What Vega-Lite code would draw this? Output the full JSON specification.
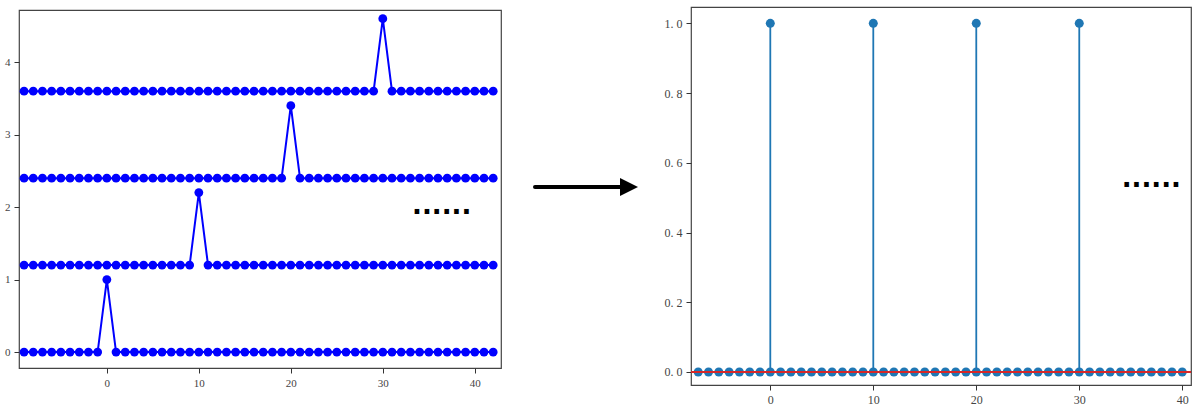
{
  "$schema": "https://vega.github.io/schema/vega-lite/v6.json",
  "padding": {"left": 3, "top": 6, "right": 0, "bottom": 0},
  "background": "white",
  "spacing": 10,
  "config": {
    "view": {"stroke": "#444", "strokeWidth": 1.2},
    "axis": {"domain": false, "grid": false, "tickColor": "#333", "tickSize": 5, "labelPadding": 4, "labelFont": "Liberation Serif", "labelFontSize": 11, "labelColor": "#444", "title": null}
  },
  "datasets": {
    "shifts": [
      {"x": -9, "a": 0, "b": 1.2, "c": 2.4, "d": 3.6},
      {"x": -8, "a": 0, "b": 1.2, "c": 2.4, "d": 3.6},
      {"x": -7, "a": 0, "b": 1.2, "c": 2.4, "d": 3.6},
      {"x": -6, "a": 0, "b": 1.2, "c": 2.4, "d": 3.6},
      {"x": -5, "a": 0, "b": 1.2, "c": 2.4, "d": 3.6},
      {"x": -4, "a": 0, "b": 1.2, "c": 2.4, "d": 3.6},
      {"x": -3, "a": 0, "b": 1.2, "c": 2.4, "d": 3.6},
      {"x": -2, "a": 0, "b": 1.2, "c": 2.4, "d": 3.6},
      {"x": -1, "a": 0, "b": 1.2, "c": 2.4, "d": 3.6},
      {"x": 0, "a": 1, "b": 1.2, "c": 2.4, "d": 3.6},
      {"x": 1, "a": 0, "b": 1.2, "c": 2.4, "d": 3.6},
      {"x": 2, "a": 0, "b": 1.2, "c": 2.4, "d": 3.6},
      {"x": 3, "a": 0, "b": 1.2, "c": 2.4, "d": 3.6},
      {"x": 4, "a": 0, "b": 1.2, "c": 2.4, "d": 3.6},
      {"x": 5, "a": 0, "b": 1.2, "c": 2.4, "d": 3.6},
      {"x": 6, "a": 0, "b": 1.2, "c": 2.4, "d": 3.6},
      {"x": 7, "a": 0, "b": 1.2, "c": 2.4, "d": 3.6},
      {"x": 8, "a": 0, "b": 1.2, "c": 2.4, "d": 3.6},
      {"x": 9, "a": 0, "b": 1.2, "c": 2.4, "d": 3.6},
      {"x": 10, "a": 0, "b": 2.2, "c": 2.4, "d": 3.6},
      {"x": 11, "a": 0, "b": 1.2, "c": 2.4, "d": 3.6},
      {"x": 12, "a": 0, "b": 1.2, "c": 2.4, "d": 3.6},
      {"x": 13, "a": 0, "b": 1.2, "c": 2.4, "d": 3.6},
      {"x": 14, "a": 0, "b": 1.2, "c": 2.4, "d": 3.6},
      {"x": 15, "a": 0, "b": 1.2, "c": 2.4, "d": 3.6},
      {"x": 16, "a": 0, "b": 1.2, "c": 2.4, "d": 3.6},
      {"x": 17, "a": 0, "b": 1.2, "c": 2.4, "d": 3.6},
      {"x": 18, "a": 0, "b": 1.2, "c": 2.4, "d": 3.6},
      {"x": 19, "a": 0, "b": 1.2, "c": 2.4, "d": 3.6},
      {"x": 20, "a": 0, "b": 1.2, "c": 3.4, "d": 3.6},
      {"x": 21, "a": 0, "b": 1.2, "c": 2.4, "d": 3.6},
      {"x": 22, "a": 0, "b": 1.2, "c": 2.4, "d": 3.6},
      {"x": 23, "a": 0, "b": 1.2, "c": 2.4, "d": 3.6},
      {"x": 24, "a": 0, "b": 1.2, "c": 2.4, "d": 3.6},
      {"x": 25, "a": 0, "b": 1.2, "c": 2.4, "d": 3.6},
      {"x": 26, "a": 0, "b": 1.2, "c": 2.4, "d": 3.6},
      {"x": 27, "a": 0, "b": 1.2, "c": 2.4, "d": 3.6},
      {"x": 28, "a": 0, "b": 1.2, "c": 2.4, "d": 3.6},
      {"x": 29, "a": 0, "b": 1.2, "c": 2.4, "d": 3.6},
      {"x": 30, "a": 0, "b": 1.2, "c": 2.4, "d": 4.6},
      {"x": 31, "a": 0, "b": 1.2, "c": 2.4, "d": 3.6},
      {"x": 32, "a": 0, "b": 1.2, "c": 2.4, "d": 3.6},
      {"x": 33, "a": 0, "b": 1.2, "c": 2.4, "d": 3.6},
      {"x": 34, "a": 0, "b": 1.2, "c": 2.4, "d": 3.6},
      {"x": 35, "a": 0, "b": 1.2, "c": 2.4, "d": 3.6},
      {"x": 36, "a": 0, "b": 1.2, "c": 2.4, "d": 3.6},
      {"x": 37, "a": 0, "b": 1.2, "c": 2.4, "d": 3.6},
      {"x": 38, "a": 0, "b": 1.2, "c": 2.4, "d": 3.6},
      {"x": 39, "a": 0, "b": 1.2, "c": 2.4, "d": 3.6},
      {"x": 40, "a": 0, "b": 1.2, "c": 2.4, "d": 3.6},
      {"x": 41, "a": 0, "b": 1.2, "c": 2.4, "d": 3.6},
      {"x": 42, "a": 0, "b": 1.2, "c": 2.4, "d": 3.6}
    ],
    "stems": [
      {"x": -7, "y": 0}, {"x": -6, "y": 0}, {"x": -5, "y": 0}, {"x": -4, "y": 0},
      {"x": -3, "y": 0}, {"x": -2, "y": 0}, {"x": -1, "y": 0}, {"x": 0, "y": 1}, {"x": 0, "y": 0},
      {"x": 1, "y": 0}, {"x": 2, "y": 0}, {"x": 3, "y": 0}, {"x": 4, "y": 0},
      {"x": 5, "y": 0}, {"x": 6, "y": 0}, {"x": 7, "y": 0}, {"x": 8, "y": 0},
      {"x": 9, "y": 0}, {"x": 10, "y": 1}, {"x": 10, "y": 0}, {"x": 11, "y": 0}, {"x": 12, "y": 0},
      {"x": 13, "y": 0}, {"x": 14, "y": 0}, {"x": 15, "y": 0}, {"x": 16, "y": 0},
      {"x": 17, "y": 0}, {"x": 18, "y": 0}, {"x": 19, "y": 0}, {"x": 20, "y": 1}, {"x": 20, "y": 0},
      {"x": 21, "y": 0}, {"x": 22, "y": 0}, {"x": 23, "y": 0}, {"x": 24, "y": 0},
      {"x": 25, "y": 0}, {"x": 26, "y": 0}, {"x": 27, "y": 0}, {"x": 28, "y": 0},
      {"x": 29, "y": 0}, {"x": 30, "y": 1}, {"x": 30, "y": 0}, {"x": 31, "y": 0}, {"x": 32, "y": 0},
      {"x": 33, "y": 0}, {"x": 34, "y": 0}, {"x": 35, "y": 0}, {"x": 36, "y": 0},
      {"x": 37, "y": 0}, {"x": 38, "y": 0}, {"x": 39, "y": 0}, {"x": 40, "y": 0}
    ],
    "baseline": [{"y": 0}],
    "dotsLeft": [{"x": 36.4, "y": 1.93, "t": "......"}],
    "dotsRight": [{"x": 37.0, "y": 0.536, "t": "......"}],
    "arrowLine": [{"x": 23, "x2": 116, "y": 0.524}],
    "arrowHead": [{"x": 117, "y": 0.524}],
    "spacer": [{"x": 0}]
  },
  "hconcat": [
    {
      "spacing": 1,
      "vconcat": [
        {
          "width": 482,
          "height": 1,
          "view": {"stroke": null},
          "data": {"name": "spacer"},
          "mark": {"type": "point", "opacity": 0, "size": 0, "strokeWidth": 0},
          "encoding": {
            "x": {"field": "x", "type": "quantitative", "axis": null}
          }
        },
        {
          "width": 482,
          "height": 358,
          "layer": [
            {
              "data": {"name": "shifts"},
              "transform": [{"fold": ["a", "b", "c", "d"], "as": ["series", "y"]}],
              "mark": {"type": "line", "color": "#0000ff", "strokeWidth": 2, "clip": true},
              "encoding": {
                "x": {"field": "x", "type": "quantitative", "scale": {"domain": [-9.55, 42.85], "nice": false, "zero": false}, "axis": {"values": [0, 10, 20, 30, 40], "format": "d"}},
                "y": {"field": "y", "type": "quantitative", "scale": {"domain": [-0.22, 4.72], "nice": false, "zero": false}, "axis": {"values": [0, 1, 2, 3, 4], "format": "d"}},
                "detail": {"field": "series"}
              }
            },
            {
              "data": {"name": "shifts"},
              "transform": [{"fold": ["a", "b", "c", "d"], "as": ["series", "y"]}],
              "mark": {"type": "point", "filled": true, "color": "#0000ff", "opacity": 1, "size": 78, "clip": true},
              "encoding": {
                "x": {"field": "x", "type": "quantitative"},
                "y": {"field": "y", "type": "quantitative"}
              }
            },
            {
              "data": {"name": "dotsLeft"},
              "mark": {"type": "text", "font": "DejaVu Sans", "fontWeight": "bold", "fontSize": 26, "color": "#000", "baseline": "alphabetic", "dy": 2, "align": "center"},
              "encoding": {
                "x": {"field": "x", "type": "quantitative"},
                "y": {"field": "y", "type": "quantitative"},
                "text": {"field": "t"}
              }
            }
          ]
        }
      ]
    },
    {
      "width": 141,
      "height": 378,
      "view": {"stroke": null},
      "layer": [
        {
          "data": {"name": "arrowLine"},
          "mark": {"type": "rule", "color": "#000", "strokeWidth": 4, "strokeCap": "round"},
          "encoding": {
            "x": {"field": "x", "type": "quantitative", "scale": {"domain": [0, 141], "nice": false, "zero": false}, "axis": null},
            "x2": {"field": "x2"},
            "y": {"field": "y", "type": "quantitative", "scale": {"domain": [0, 1], "nice": false}, "axis": null}
          }
        },
        {
          "data": {"name": "arrowHead"},
          "mark": {"type": "point", "filled": true, "color": "#000", "opacity": 1, "size": 324, "shape": "M -1 -1 L 1 0 L -1 1 Z"},
          "encoding": {
            "x": {"field": "x", "type": "quantitative"},
            "y": {"field": "y", "type": "quantitative"}
          }
        }
      ]
    },
    {
      "width": 500,
      "height": 378,
      "layer": [
        {
          "data": {"name": "stems"},
          "mark": {"type": "rule", "color": "#1f77b4", "strokeWidth": 1.8},
          "encoding": {
            "x": {"field": "x", "type": "quantitative", "scale": {"domain": [-7.7, 40.85], "nice": false, "zero": false}, "axis": {"values": [0, 10, 20, 30, 40], "format": "d", "labelFontSize": 12}},
            "y": {"field": "y", "type": "quantitative", "scale": {"domain": [-0.0373, 1.0468], "nice": false, "zero": false}, "axis": {"values": [0, 0.2, 0.4, 0.6, 0.8, 1.0], "labelFontSize": 12, "labelExpr": "replace(format(datum.value, '.1f'), '.', '. ')"}},
            "y2": {"datum": 0}
          }
        },
        {
          "data": {"name": "stems"},
          "mark": {"type": "point", "filled": true, "color": "#1f77b4", "opacity": 1, "size": 81},
          "encoding": {
            "x": {"field": "x", "type": "quantitative"},
            "y": {"field": "y", "type": "quantitative"}
          }
        },
        {
          "data": {"name": "baseline"},
          "mark": {"type": "rule", "color": "#d62728", "strokeWidth": 2},
          "encoding": {"y": {"field": "y", "type": "quantitative"}}
        },
        {
          "data": {"name": "dotsRight"},
          "mark": {"type": "text", "font": "DejaVu Sans", "fontWeight": "bold", "fontSize": 26, "color": "#000", "baseline": "alphabetic", "dy": 2, "align": "center"},
          "encoding": {
            "x": {"field": "x", "type": "quantitative"},
            "y": {"field": "y", "type": "quantitative"},
            "text": {"field": "t"}
          }
        }
      ]
    }
  ]
}
